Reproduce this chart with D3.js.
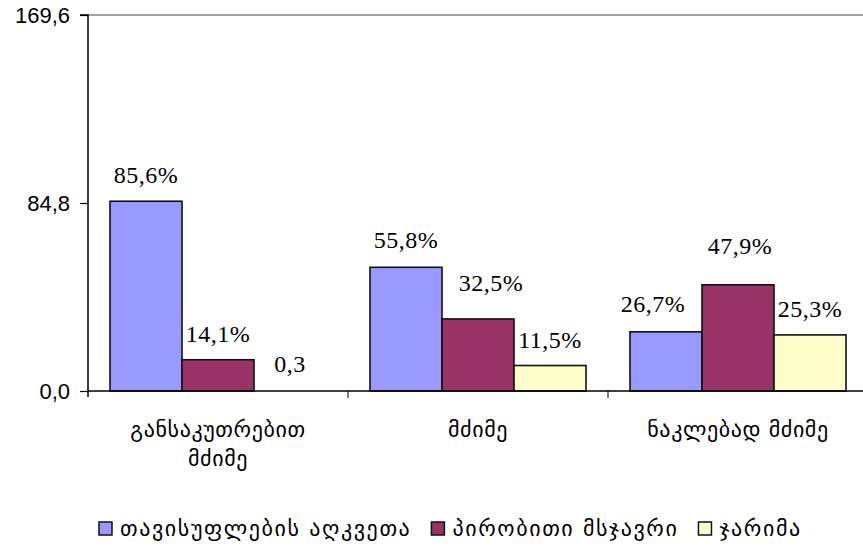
<!DOCTYPE html>
<html>
<head>
<meta charset="utf-8">
<script src="https://cdn.jsdelivr.net/npm/d3@7"></script>
<style>
  html, body { margin: 0; padding: 0; background: #fff; }
  svg { display: block; }
</style>
</head>
<body>
<svg id="chart" width="863" height="548"></svg>
<script>
// Categories (severity of offence) and sentencing types
const categories = [["განსაკუთრებით", "მძიმე"], ["მძიმე"], ["ნაკლებად მძიმე"]];
const seriesNames = ["თავისუფლების აღკვეთა", "პირობითი მსჯავრი", "ჯარიმა"];
const seriesColors = ["#9999FF", "#993366", "#FFFFCC"];

// Values per series, one entry per category
const deprivation = [85.6, 55.8, 26.7];
const probation = [14.1, 32.5, 47.9];
const fine = [0.3, 11.5, 25.3];
const seriesValues = [deprivation, probation, fine];

// Values printed without the percent sign
const plainLabels = [[0, 2]]; // [category, series]

const yTicks = [0, 84.8, 169.6];

const svg = d3.select("#chart");
const plotLeft = 88, plotRight = 868, plotTop = 15, plotBottom = 391;

const x = d3.scaleBand().domain(d3.range(categories.length)).range([plotLeft, plotRight]);
const xInner = d3.scaleBand().domain(d3.range(seriesNames.length)).range([22, x.bandwidth() - 22]);
const y = d3.scaleLinear().domain([0, 169.6]).range([plotBottom, plotTop]);

const comma = v => d3.format(".1f")(v).replace(".", ",");

// Top border line
svg.append("line")
  .attr("x1", plotLeft).attr("x2", plotRight).attr("y1", y(169.6)).attr("y2", y(169.6))
  .attr("stroke", "#a0a0a0").attr("stroke-width", 2);

// Y axis
const yAxis = d3.axisLeft(y).tickValues(yTicks).tickSize(8).tickPadding(10).tickFormat(comma);
const gy = svg.append("g").attr("transform", `translate(${plotLeft},0)`).call(yAxis);
gy.select(".domain").attr("stroke", "#000").attr("stroke-width", 1.5).attr("d", `M-8,${plotTop}H0V${plotBottom + 6}`);
gy.selectAll(".tick line").attr("stroke", "#000").attr("stroke-width", 1.2);
gy.selectAll(".tick text")
  .attr("font-family", "'Liberation Sans', Arial, sans-serif")
  .attr("font-size", 22).attr("fill", "#000").attr("dy", "0.36em");

// Bars
const bars = [];
seriesValues.forEach((vals, s) => vals.forEach((v, c) => bars.push({ c, s, v })));

svg.append("g").selectAll("rect").data(bars).join("rect")
  .attr("x", d => x(d.c) + xInner(d.s))
  .attr("y", d => y(d.v))
  .attr("width", xInner.bandwidth())
  .attr("height", d => y(0) - y(d.v))
  .attr("fill", d => seriesColors[d.s])
  .attr("stroke", "#111").attr("stroke-width", d => (y(0) - y(d.v)) < 2 ? 0 : 1.6);

// X axis baseline and category ticks
svg.append("line")
  .attr("x1", plotLeft).attr("x2", plotRight).attr("y1", plotBottom).attr("y2", plotBottom)
  .attr("stroke", "#000").attr("stroke-width", 1.5);
svg.append("g").selectAll("line").data(d3.range(1, categories.length + 1)).join("line")
  .attr("x1", i => plotLeft + i * x.bandwidth()).attr("x2", i => plotLeft + i * x.bandwidth())
  .attr("y1", plotBottom).attr("y2", plotBottom + 7)
  .attr("stroke", "#000").attr("stroke-width", 1);

// Value labels (with small nudges to avoid collisions)
const nudge = { "1-1": [13, -10], "2-0": [-13, -2], "2-1": [2, -13], "1-0": [0, -1] };
svg.append("g").selectAll("text").data(bars).join("text")
  .attr("x", d => x(d.c) + xInner(d.s) + xInner.bandwidth() / 2 + (nudge[d.c + "-" + d.s] || [0, 0])[0])
  .attr("y", d => y(d.v) - 18 + (nudge[d.c + "-" + d.s] || [0, 0])[1])
  .attr("text-anchor", "middle")
  .attr("font-family", "'Liberation Serif', 'Times New Roman', serif")
  .attr("font-size", 24).attr("letter-spacing", 0.5).attr("fill", "#000")
  .text(d => comma(d.v) + (plainLabels.some(p => p[0] === d.c && p[1] === d.s) ? "" : "%"));

// Category labels
const georgianFont = "'DejaVu Sans', sans-serif";
const cat = svg.append("g").selectAll("text").data(categories).join("text")
  .attr("x", (d, i) => x(i) + x.bandwidth() / 2)
  .attr("y", 437)
  .attr("text-anchor", "middle")
  .attr("font-family", georgianFont).attr("font-size", 22)
  .attr("letter-spacing", 0.6).attr("fill", "#000");
cat.selectAll("tspan").data(d => d).join("tspan")
  .attr("x", function () { return this.parentNode.getAttribute("x"); })
  .attr("dy", (d, i) => i === 0 ? 0 : 29)
  .text(d => d);

// Legend: key + label, laid out left to right
const legend = svg.append("g").attr("transform", "translate(99,522)");
let cursor = 0;
seriesNames.forEach((name, i) => {
  const item = legend.append("g").attr("transform", `translate(${cursor},0)`);
  item.append("rect").attr("width", 13).attr("height", 13)
    .attr("fill", seriesColors[i]).attr("stroke", "#111").attr("stroke-width", 1.5);
  const t = item.append("text").attr("x", 21).attr("y", 14)
    .attr("font-family", georgianFont).attr("font-size", 22)
    .attr("letter-spacing", 1.6).attr("fill", "#000")
    .text(name);
  cursor += 21 + t.node().getComputedTextLength() + 20;
});
</script>
</body>
</html>
